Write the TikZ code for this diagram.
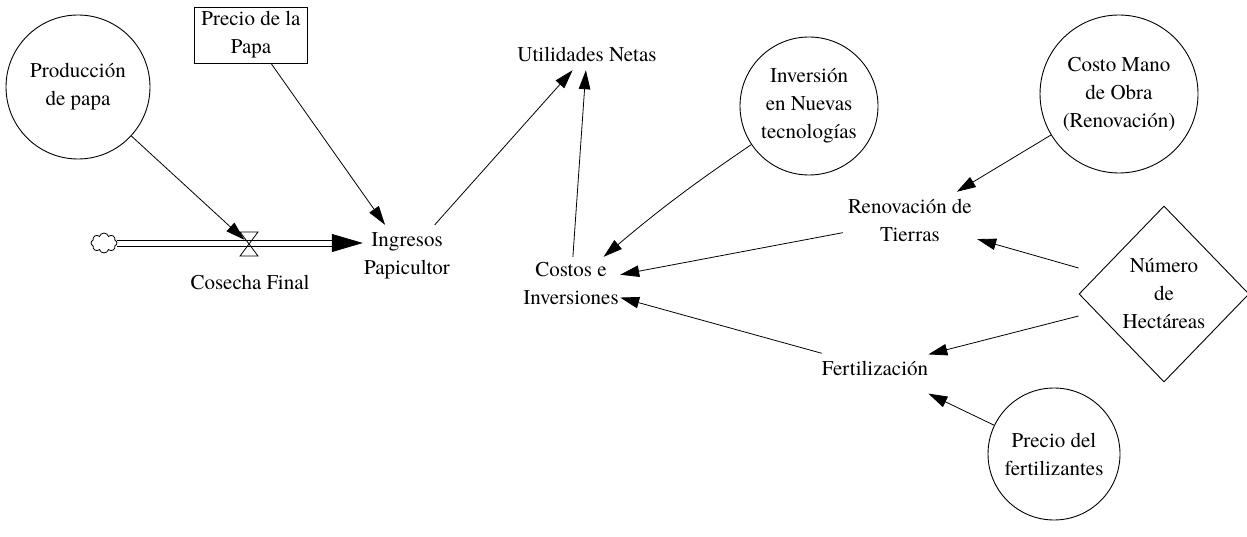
\documentclass[tikz,border=0pt]{standalone}
\usepackage{fontspec}
\newfontfamily\tnr{TeX Gyre Termes}
\usetikzlibrary{arrows.meta,shapes.geometric,shapes.symbols}
\begin{document}
\begin{tikzpicture}[x=1pt,y=-1pt,
  every node/.style={font=\tnr\fontsize{21}{28}\selectfont, align=center, inner sep=0pt},
  varc/.style={circle, draw, line width=0.9pt, minimum size=#1},
  lbl/.style={rectangle, minimum width=#1},
  arr/.style={line width=0.8pt, -{Triangle[length=19pt,width=11.5pt]}},
  pipeline/.style={line width=0.8pt},
  pipehead/.style={line width=0.8pt, -{Triangle[length=31pt,width=18pt]}}
]
\useasboundingbox (0,0) rectangle (1247,537);

\node[varc=144pt] (prod) at (78,87) {Producción\\de papa};
\node[draw, line width=0.9pt, rectangle, minimum width=113pt, minimum height=56pt] (precio) at (251,35) {Precio de la\\Papa};
\node[cloud, draw, line width=0.8pt, cloud puffs=8, minimum width=26pt, minimum height=20pt] (src) at (104,243) {};
\node[circle, minimum size=12pt] (valve) at (249,244) {};
\node (cos) at (250,282) {Cosecha Final};
\node[lbl=88pt, minimum height=62pt] (ing) at (407,256) {Ingresos\\Papicultor};
\node[lbl=145pt, minimum height=32pt] (util) at (587,54) {Utilidades Netas};
\node[lbl=98pt, minimum height=54pt] (cost) at (571,284) {Costos e\\Inversiones};
\node[varc=138pt] (inv) at (809,106) {Inversión\\en Nuevas\\tecnologías};
\node[varc=158pt] (cmo) at (1119,94) {Costo Mano\\de Obra\\(Renovación)};
\node[lbl=134pt, minimum height=56pt] (ren) at (910,220) {Renovación de\\Tierras};
\node[diamond, draw, line width=0.9pt, aspect=1, minimum width=170pt, minimum height=176pt] (hec) at (1164,294) {Número\\de\\Hectáreas};
\node[lbl=106pt, minimum height=56pt] (fer) at (875,368) {Fertilización};
\node[varc=132pt] (pdf) at (1054,454) {Precio del\\fertilizantes};

\draw[pipeline] ([yshift=3pt]src.east) -- ([xshift=-29pt,yshift=3pt]ing.west |- src);
\draw[pipeline] ([yshift=-3pt]src.east) -- ([xshift=-29pt,yshift=-3pt]ing.west |- src);
\draw[pipehead] ([xshift=-31pt]ing.west |- src) -- (ing.west |- src);
\draw[line width=0.8pt] (valve.center) +(-9,-12) -- +(9,-12) -- +(-9,12) -- +(9,12) -- cycle;
\draw[arr] (prod) -- (valve);
\draw[arr] (precio) -- (ing);
\draw[arr] (ing) -- (util);
\draw[arr] (cost) -- (util);
\draw[arr] (inv) to[bend right=3] (cost);
\draw[arr] (cmo) -- (ren);
\draw[arr] ([yshift=26pt]hec.west) -- (ren);
\draw[arr] ([yshift=-22pt]hec.west) -- (fer);
\draw[arr] (pdf) -- (fer);
\draw[arr] (ren) -- (cost);
\draw[arr] (fer) -- (cost);
\end{tikzpicture}
\end{document}
